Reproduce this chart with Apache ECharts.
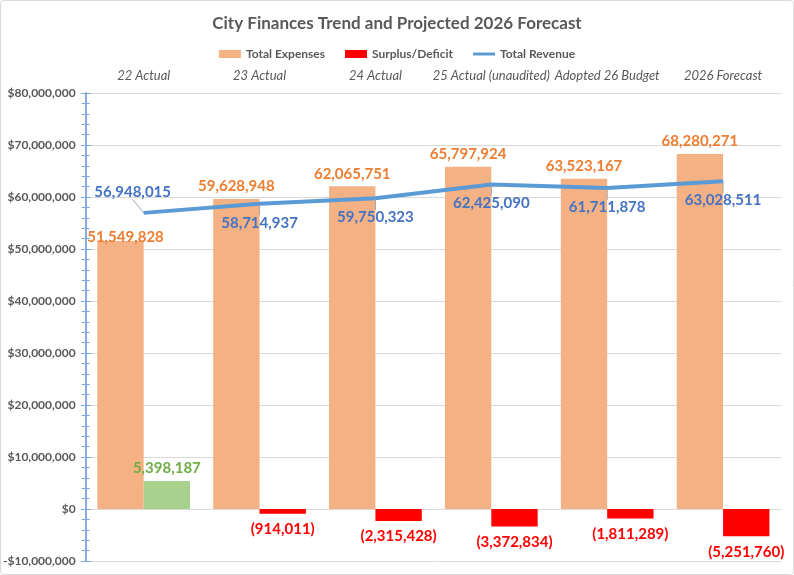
<!DOCTYPE html>
<html>
<head>
<meta charset="utf-8">
<script src="https://cdn.jsdelivr.net/npm/echarts@6/dist/echarts.min.js"></script>
<style>
  html, body { margin: 0; padding: 0; background: #fff; }
  #main { width: 794px; height: 575px; }
</style>
</head>
<body>
<div id="main"></div>
<script>
var categories = ['22 Actual', '23 Actual', '24 Actual', '25 Actual (unaudited)', 'Adopted 26 Budget', '2026 Forecast'];
var totalExpenses = [51549828, 59628948, 62065751, 65797924, 63523167, 68280271];
var surplusDeficit = [5398187, -914011, -2315428, -3372834, -1811289, -5251760];
var totalRevenue = [56948015, 58714937, 59750323, 62425090, 61711878, 63028511];

var fontFamily = 'Lato, "Noto Sans", sans-serif';
var grey = '#595959';

function fmt(v) {
    var s = Math.abs(v).toLocaleString('en-US');
    return v < 0 ? '(' + s + ')' : s;
}

function money(v) {
    var s = '$' + Math.abs(v).toLocaleString('en-US');
    return v < 0 ? '-' + s : s;
}

var dom = document.getElementById('main');
var myChart = echarts.init(dom, null, { renderer: 'canvas' });

var expenseData = totalExpenses.map(function (v, i) {
    if (i === 0) {
        return { value: v, label: { offset: [5, 9] } };
    }
    return v;
});

var surplusData = surplusDeficit.map(function (v) {
    return {
        value: v,
        itemStyle: { color: v >= 0 ? '#A9D18E' : '#FF0000' },
        label: {
            position: v >= 0 ? 'top' : 'bottom',
            distance: v >= 0 ? 5 : 8,
            color: v >= 0 ? '#70AD47' : '#FF0000'
        }
    };
});

var revenueData = totalRevenue.map(function (v, i) {
    if (i === 0) {
        return { value: v, label: { position: 'top', distance: 5 } };
    }
    return v;
});

var yAxisBase = {
    type: 'value',
    min: -10000000,
    max: 80000000,
    interval: 10000000,
    position: 'left',
    axisLine: { show: true, lineStyle: { color: '#7FA7DB', width: 1.5 } },
    minorTick: { show: true, splitNumber: 5, length: 4, lineStyle: { color: '#7FA7DB' } },
    axisTick: { show: true, length: 5, lineStyle: { color: '#7FA7DB' } }
};

var option = {
    backgroundColor: '#ffffff',
    textStyle: { fontFamily: fontFamily },
    title: {
        text: 'City Finances Trend and Projected 2026 Forecast',
        left: 'center',
        top: 10,
        textStyle: { color: grey, fontSize: 17, fontWeight: 'bold', fontFamily: fontFamily }
    },
    legend: {
        top: 43,
        left: 'center',
        itemGap: 20,
        itemWidth: 22,
        itemHeight: 8,
        textStyle: { color: grey, fontSize: 12, fontWeight: 'bold', fontFamily: fontFamily },
        data: [
            { name: 'Total Expenses', icon: 'rect' },
            { name: 'Surplus/Deficit', icon: 'rect', itemStyle: { color: '#FF0000' } },
            { name: 'Total Revenue', icon: 'path://M0,3 L22,3 L22,6 L0,6 Z', itemStyle: { color: '#5B9BD5' } }
        ]
    },
    grid: { left: 85, right: 13, top: 93, bottom: 14, containLabel: false },
    graphic: [{
        type: 'rect',
        shape: { x: 0.5, y: 0.5, width: 793, height: 574, r: 3 },
        style: { fill: 'none', stroke: '#D9D9D9', lineWidth: 1 },
        silent: true
    }],
    xAxis: {
        type: 'category',
        position: 'top',
        data: categories,
        axisLine: { show: false },
        axisTick: { show: false },
        axisLabel: {
            interval: 0,
            color: grey,
            fontSize: 13,
            fontStyle: 'italic',
            fontFamily: fontFamily,
            margin: 11
        }
    },
    yAxis: [
        Object.assign({}, yAxisBase, {
            axisLabel: {
                color: grey,
                fontSize: 12,
                fontWeight: 'bold',
                fontFamily: fontFamily,
                margin: 10,
                formatter: money
            },
            splitLine: { show: true, lineStyle: { color: '#D9D9D9', width: 1 } }
        }),
        Object.assign({}, yAxisBase, {
            axisLabel: { show: false },
            axisTick: { show: true, inside: true, length: 5, lineStyle: { color: '#7FA7DB' } },
            minorTick: { show: true, splitNumber: 5, length: 4, lineStyle: { color: '#7FA7DB' } },
            splitLine: { show: false }
        })
    ],
    series: [
        {
            name: 'Total Expenses',
            type: 'bar',
            barGap: '0%',
            barCategoryGap: '20%',
            itemStyle: { color: '#F4B183' },
            label: {
                show: true,
                position: 'top',
                distance: 5,
                color: '#ED7D31',
                fontSize: 15,
                fontWeight: 'bold',
                fontFamily: fontFamily,
                formatter: function (p) { return fmt(p.value); }
            },
            data: expenseData
        },
        {
            name: 'Surplus/Deficit',
            type: 'bar',
            itemStyle: { color: '#FF0000' },
            label: {
                show: true,
                fontSize: 15,
                fontWeight: 'bold',
                fontFamily: fontFamily,
                formatter: function (p) { return fmt(p.value); }
            },
            data: surplusData
        },
        {
            name: 'Total Revenue',
            type: 'line',
            symbol: 'circle',
            symbolSize: 1,
            showSymbol: true,
            z: 5,
            lineStyle: { color: '#5B9BD5', width: 4 },
            itemStyle: { color: '#5B9BD5' },
            label: {
                show: true,
                position: 'bottom',
                distance: 11,
                color: '#4472C4',
                fontSize: 15,
                fontWeight: 'bold',
                fontFamily: fontFamily,
                formatter: function (p) { return fmt(p.value); }
            },
            labelLine: { show: true, lineStyle: { color: '#A6A6A6', width: 1 } },
            labelLayout: function (params) {
                if (params.dataIndex === 0) {
                    return { dx: -11, dy: -8 };
                }
                return {};
            },
            data: revenueData
        }
    ]
};

myChart.setOption(option);

window.addEventListener('resize', myChart.resize);
</script>
</body>
</html>
